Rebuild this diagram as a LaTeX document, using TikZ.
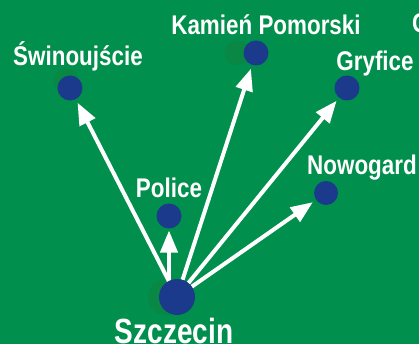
\documentclass[tikz,border=0pt]{standalone}
\usepackage{fontspec}
\setmainfont{Liberation Sans}
\usepackage{graphicx}
\usetikzlibrary{arrows.meta}
\definecolor{bgc}{RGB}{0,143,76}
\definecolor{faint}{RGB}{9,135,68}
\definecolor{cityc}{RGB}{28,58,140}
\pgfdeclarelayer{back}
\pgfdeclarelayer{under}
\pgfsetlayers{back,under,main}
\begin{document}
\begin{tikzpicture}[x=1pt,y=-1pt,
  city/.style={circle,fill=cityc,inner sep=0pt,outer sep=0pt,minimum size=25pt},
  ghost/.style={circle,fill=faint,inner sep=0pt,minimum size=25pt},
  lbl/.style={text=white,font=\bfseries\fontsize{27}{27}\selectfont,inner sep=0pt,anchor=base},
  biglbl/.style={text=white,font=\bfseries\fontsize{35}{35}\selectfont,inner sep=0pt,anchor=base},
  link/.style={white,line width=4pt,-{Triangle[length=22pt,width=17pt]},shorten >=4pt}]
\begin{pgfonlayer}{back}
  \fill[bgc] (0,0) rectangle (419,344);
\end{pgfonlayer}
\useasboundingbox (0,0) rectangle (419,344);
% cities
\node[city] (swi) at (70,88) {};
\node[city] (kam) at (256,53) {};
\node[city] (gry) at (347,88) {};
\node[city] (pol) at (169,216) {};
\node[city,minimum size=24pt] (now) at (326,193) {};
\node[city,minimum size=36pt] (sz) at (177,297) {};
% labels
\node[lbl] (lswi) at (78,66) {\scalebox{0.83}[1]{Świnoujście}};
\node[lbl] (lkam) at (266,35) {\scalebox{0.83}[1]{Kamień Pomorski}};
\node[lbl] (lgry) at (375,71) {\scalebox{0.83}[1]{Gryfice}};
\node[lbl] (lpol) at (169,198) {\scalebox{0.83}[1]{Police}};
\node[lbl] (lnow) at (362,175) {\scalebox{0.83}[1]{Nowogard}};
\node[biglbl] (lsz) at (174,343) {\scalebox{0.8}[1]{Szczecin}};
\node[lbl,anchor=base west] (lgol) at (412,33) {\scalebox{0.83}[1]{G}};
% faint shadows and links
\begin{pgfonlayer}{under}
  \node[ghost] (gswi) at (66,81) {};
  \node[ghost] (gkam) at (237,53) {};
  \node[ghost,minimum size=36pt] (gsz) at (166,297) {};
  \draw[link] (sz) -- (swi);
  \draw[link] (sz) -- (kam);
  \draw[link] (sz) -- (gry);
  \draw[link] (sz) -- (now);
  \draw[link,shorten >=2pt] (pol |- sz.center) -- (pol);
\end{pgfonlayer}
\end{tikzpicture}
\end{document}
